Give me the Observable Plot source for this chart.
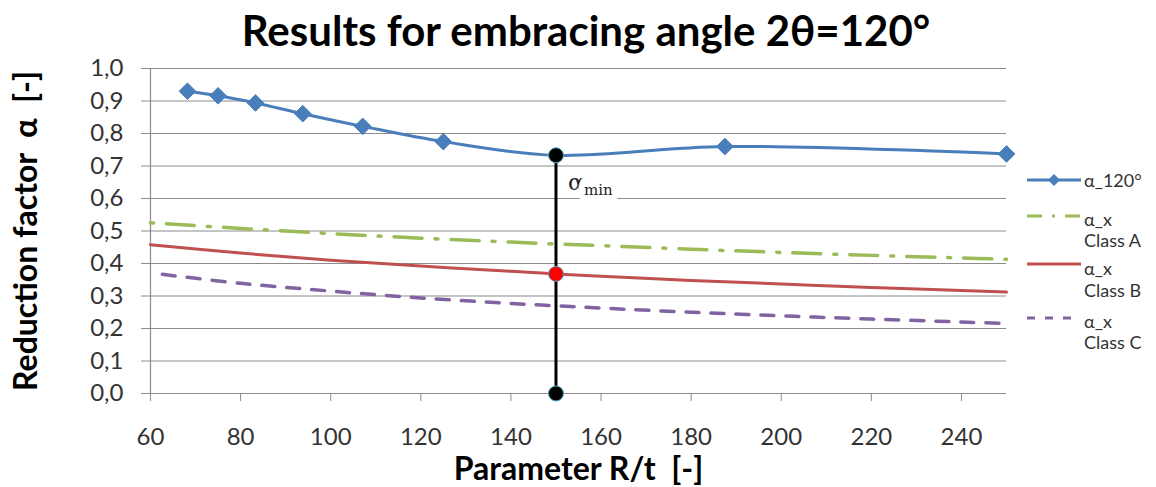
<!DOCTYPE html>
<html>
<head>
<meta charset="utf-8">
<script src="https://cdn.jsdelivr.net/npm/d3@7"></script>
<script src="https://cdn.jsdelivr.net/npm/@observablehq/plot@0.6"></script>
<style>
  body { margin: 0; background: #fff; }
  #wrap { position: relative; width: 1156px; height: 487px; font-family: Lato, "Open Sans", sans-serif; overflow: hidden; }
  #title { position: absolute; left: 586px; top: 6px; transform: translateX(-50%); white-space: nowrap;
           font-weight: bold; font-size: 42px; color: #000; line-height: 48px; }
  #chart { position: absolute; left: 0; top: 0; }
  #chart svg { overflow: visible; }
  g[aria-label="y-axis label"] text { font-size: 32px; font-weight: bold; fill: #000; }
  g[aria-label="x-axis label"] text { font-size: 32px; font-weight: bold; fill: #000; }
  .lg { position: absolute; font-size: 18px; color: #333; line-height: 18px; white-space: nowrap; }
  .sw { position: absolute; }
</style>
</head>
<body>
<div id="wrap">
  <div id="chart"></div>
  <div id="title">Results for embracing angle 2θ=120°</div>
  <div id="legend"></div>
</div>
<script>
// ---- data ----
const rt120 = [68.2, 75, 83.3, 93.8, 107.1, 125, 150, 187.5, 250];
const alpha120 = [0.930, 0.916, 0.894, 0.861, 0.822, 0.775, 0.733, 0.760, 0.737];

const rtClass = [60, 80, 100, 120, 140, 150, 160, 180, 200, 220, 240, 250];
const alphaClassA = [0.525, 0.508, 0.492, 0.478, 0.466, 0.460, 0.455, 0.444, 0.434, 0.425, 0.417, 0.413];
const alphaClassB = [0.458, 0.432, 0.410, 0.392, 0.376, 0.368, 0.361, 0.348, 0.337, 0.326, 0.317, 0.312];
const alphaClassC = [0.371, 0.339, 0.315, 0.294, 0.277, 0.270, 0.263, 0.250, 0.239, 0.229, 0.220, 0.215];

const xTicks = [60, 80, 100, 120, 140, 160, 180, 200, 220, 240];
const xTickLabels = ["60", "80", "100", "120", "140", "160", "180", "200", "220", "240"];
const yTicks = [0, 0.1, 0.2, 0.3, 0.4, 0.5, 0.6, 0.7, 0.8, 0.9, 1.0];
const yTickLabels = ["0,0", "0,1", "0,2", "0,3", "0,4", "0,5", "0,6", "0,7", "0,8", "0,9", "1,0"];

const seriesNames = ["α_120°", "α_x\nClass A", "α_x\nClass B", "α_x\nClass C"];
const seriesColors = ["#4a7ebb", "#9bbb59", "#c0504d", "#8064a2"];

// ---- derived tables ----
const s120 = rt120.map((x, i) => ({x, y: alpha120[i]}));
const sA = rtClass.map((x, i) => ({x, y: alphaClassA[i]}));
const sB = rtClass.map((x, i) => ({x, y: alphaClassB[i]}));
const sC = rtClass.map((x, i) => ({x, y: alphaClassC[i]}));
const iMin = alpha120.indexOf(d3.min(alpha120));
const xMin = rt120[iMin];
const alphaMin = alpha120[iMin];
const alphaB = alphaClassB[rtClass.indexOf(xMin)];

const grid = "#8c8c8c";

const chart = Plot.plot({
  width: 1156,
  height: 487,
  marginTop: 68,
  marginBottom: 94,
  marginLeft: 150,
  marginRight: 150,
  style: {fontFamily: "Lato, 'Open Sans', sans-serif", background: "transparent", overflow: "visible"},
  x: {domain: [60, 250]},
  y: {domain: [0, 1]},
  marks: [
    Plot.gridY(yTicks, {stroke: grid, strokeOpacity: 1, strokeWidth: 1.2}),
    Plot.ruleX([60], {stroke: grid, strokeWidth: 1.2}),
    Plot.axisY(yTicks, {
      tickFormat: d => yTickLabels[yTicks.indexOf(d)],
      tickSize: 9, tickPadding: 18, fontSize: 24, stroke: grid, fill: "#333",
      label: "Reduction factor  α  [-]", labelAnchor: "center", labelOffset: 136, labelArrow: "none"
    }),
    Plot.axisX(xTicks, {
      tickFormat: d => xTickLabels[xTicks.indexOf(d)],
      tickSize: 8, tickPadding: 26, fontSize: 24, stroke: grid, fill: "#333",
      label: "Parameter R/t  [-]", labelAnchor: "center", labelOffset: 86, labelArrow: "none"
    }),
    Plot.line(sC, {x: "x", y: "y", stroke: seriesColors[3], strokeWidth: 3.5, strokeDasharray: "13,12", strokeDashoffset: 13, curve: "catmull-rom"}),
    Plot.line(sB, {x: "x", y: "y", stroke: seriesColors[2], strokeWidth: 3, curve: "catmull-rom"}),
    Plot.line(sA, {x: "x", y: "y", stroke: seriesColors[1], strokeWidth: 3.5, strokeDasharray: "28,13,3,13", strokeDashoffset: 41, curve: "catmull-rom"}),
    Plot.line(s120, {x: "x", y: "y", stroke: seriesColors[0], strokeWidth: 3, curve: "catmull-rom"}),
    Plot.dot(s120.filter((d, i) => i !== iMin), {x: "x", y: "y", symbol: "diamond2", r: 7.5, fill: seriesColors[0], stroke: seriesColors[0], strokeWidth: 1}),
    Plot.ruleX([{x: xMin, y2: alphaMin}], {x: "x", y1: 0, y2: "y2", stroke: "#000", strokeWidth: 3}),
    Plot.dot([{x: xMin, y: 0}, {x: xMin, y: alphaMin}], {x: "x", y: "y", r: 7.5, fill: "#000", stroke: "#4bacc6", strokeWidth: 1}),
    Plot.dot([{x: xMin, y: alphaB}], {x: "x", y: "y", r: 7.5, fill: "#ff0000", stroke: "#4bacc6", strokeWidth: 1}),
    Plot.text([{x: xMin, y: alphaMin}], {x: "x", y: "y", text: () => "α", dx: 12, dy: 27, textAnchor: "start",
      fontFamily: "'DejaVu Serif', serif", fontSize: 23, fill: "#222", stroke: "white", strokeWidth: 10}),
    Plot.text([{x: xMin, y: alphaMin}], {x: "x", y: "y", text: () => "min", dx: 28, dy: 35, textAnchor: "start",
      fontFamily: "'DejaVu Serif', serif", fontSize: 15, fill: "#222", stroke: "white", strokeWidth: 12})
  ]
});
document.getElementById("chart").appendChild(chart);

// ---- legend ----
const legend = document.getElementById("legend");
const legendRows = [
  {sw: 180, lines: [180]},
  {sw: 216, lines: [219, 240]},
  {sw: 264, lines: [268, 290]},
  {sw: 318, lines: [321, 342]}
];
const swatch = [
  `<line x1="0" y1="6" x2="54" y2="6" stroke="${seriesColors[0]}" stroke-width="3"/><path d="M27,0 L33,6 L27,12 L21,6 Z" fill="${seriesColors[0]}"/>`,
  `<line x1="0" y1="6" x2="54" y2="6" stroke="${seriesColors[1]}" stroke-width="3" stroke-dasharray="15,10,3,10"/>`,
  `<line x1="0" y1="6" x2="54" y2="6" stroke="${seriesColors[2]}" stroke-width="3"/>`,
  `<line x1="0" y1="6" x2="54" y2="6" stroke="${seriesColors[3]}" stroke-width="3" stroke-dasharray="8,10"/>`
];
legendRows.forEach((row, k) => {
  const s = document.createElementNS("http://www.w3.org/2000/svg", "svg");
  s.setAttribute("width", 54); s.setAttribute("height", 12);
  s.setAttribute("class", "sw");
  s.style.left = "1027px"; s.style.top = (row.sw - 6) + "px";
  s.innerHTML = swatch[k];
  legend.appendChild(s);
  seriesNames[k].split("\n").forEach((t, j) => {
    const d = document.createElement("div");
    d.className = "lg";
    d.style.left = "1084px";
    d.style.top = (row.lines[j] - 9) + "px";
    d.textContent = t;
    legend.appendChild(d);
  });
});
</script>
</body>
</html>
